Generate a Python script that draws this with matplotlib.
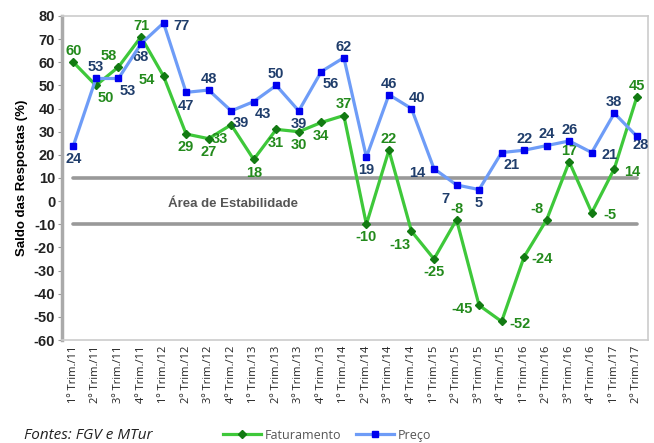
import numpy as np
import matplotlib.pyplot as plt

plt.rcParams["axes.unicode_minus"] = False
plt.rcParams["font.family"] = ["Liberation Sans", "DejaVu Sans"]

# dados
trimestres = ["1º Trim./11", "2º Trim./11", "3º Trim./11", "4º Trim./11",
              "1º Trim./12", "2º Trim./12", "3º Trim./12", "4º Trim./12",
              "1º Trim./13", "2º Trim./13", "3º Trim./13", "4º Trim./13",
              "1º Trim./14", "2º Trim./14", "3º Trim./14", "4º Trim./14",
              "1º Trim./15", "2º Trim./15", "3º Trim./15", "4º Trim./15",
              "1º Trim./16", "2º Trim./16", "3º Trim./16", "4º Trim./16",
              "1º Trim./17", "2º Trim./17"]
faturamento = [60, 50, 58, 71, 54, 29, 27, 33, 18, 31, 30, 34, 37, -10, 22, -13,
               -25, -8, -45, -52, -24, -8, 17, -5, 14, 45]
preco = [24, 53, 53, 68, 77, 47, 48, 39, 43, 50, 39, 56, 62, 19, 46, 40,
         14, 7, 5, 21, 22, 24, 26, 21, 38, 28]

# posicao dos rotulos (a=acima, b=abaixo, l=esq, r=dir)
pos_fat = ["a", "br", "al", "a", "l", "b", "b", "bl", "b", "b", "b", "b", "a",
           "b", "a", "bl", "b", "a", "l", "r", "r", "al", "a", "r", "r", "a"]
pos_pre = ["b", "a", "br", "b", "r", "b", "a", "br", "br", "a", "b", "br", "a",
           "b", "a", "ar", "l", "bl", "b", "br", "a", "a", "a", "r", "a", "bR"]
OFF = {"a": (0, 8), "b": (0, -9.5), "l": (-12, -3), "r": (13, -2),
       "al": (-7, 7.5), "ar": (4, 7.5), "bl": (-8, -10), "br": (7, -9),
       "bR": (3, -6.5)}

x = np.arange(len(trimestres))

fig = plt.figure(figsize=(6.54, 4.43), dpi=100)
ax = fig.add_axes([0.095, 0.2325, 0.896, 0.7314])

ax.plot([0, len(x) - 1], [10, 10], color="#999999", lw=2.6, solid_capstyle="round")
ax.plot([0, len(x) - 1], [-10, -10], color="#999999", lw=2.6, solid_capstyle="round")
ax.text(7.1, -1.2, "Área de Estabilidade", ha="center", va="center",
        fontsize=9.5, fontweight="bold", color="#555555")

ax.plot(x, faturamento, color="#3ec83a", lw=2.3, marker="D", ms=4,
        mfc="#127a12", mec="#127a12", label="Faturamento", zorder=3)
ax.plot(x, preco, color="#6e9cf7", lw=2.3, marker="s", ms=4.5,
        mfc="#0000ee", mec="#0000ee", label="Preço", zorder=4)

for i in x:
    ax.annotate(str(faturamento[i]), (i, faturamento[i]), xytext=OFF[pos_fat[i]],
                textcoords="offset points", ha="center", va="center",
                fontsize=10.5, fontweight="bold", color="#238a1c")
    ax.annotate(str(preco[i]), (i, preco[i]), xytext=OFF[pos_pre[i]],
                textcoords="offset points", ha="center", va="center",
                fontsize=10.5, fontweight="bold", color="#1f3d6b")

ax.set_xlim(-0.5, len(x) - 0.5)
ax.set_ylim(-60, 80)
ax.set_yticks(range(-60, 81, 10))
ax.set_xticks(x)
ax.set_xticklabels(trimestres, rotation=90, fontsize=8, color="#222222",
                   family="Open Sans")
for t in ax.get_yticklabels():
    t.set_fontweight("bold")
    t.set_fontsize(10.5)
    t.set_color("#222222")
ax.tick_params(axis="x", length=0, pad=4)
ax.tick_params(axis="y", length=3, color="#999999", pad=2)
ax.set_ylabel("Saldo das Respostas (%)", fontsize=9.5, fontweight="bold", labelpad=4)

for s in ["top", "right", "bottom"]:
    ax.spines[s].set_color("#cccccc")
    ax.spines[s].set_linewidth(1.2)
ax.spines["left"].set_color("#aaaaaa")
ax.spines["left"].set_linewidth(2.5)

fig.text(0.037, 0.018, "Fontes: FGV e MTur", fontsize=11, style="italic",
         family="Open Sans", color="#222222", va="center")
fig.legend(loc="center", bbox_to_anchor=(0.5, 0.018), ncol=2, frameon=False,
           handlelength=3, columnspacing=1.2, handletextpad=0.3,
           prop={"family": "Open Sans", "size": 9}, labelcolor="#555555")

plt.savefig("out.png", dpi=100)
